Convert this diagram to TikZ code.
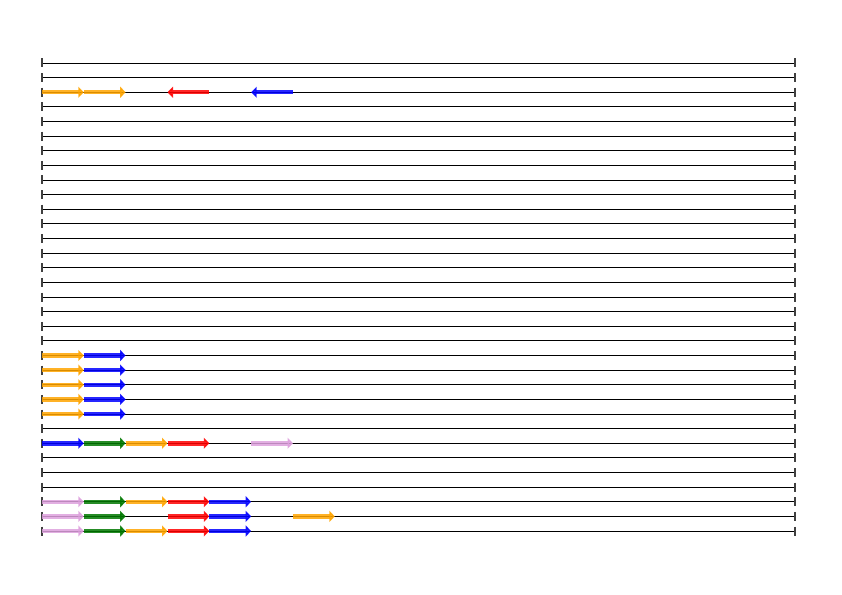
\documentclass[tikz,border=0pt]{standalone}
\usetikzlibrary{arrows.meta}
\definecolor{aorange}{RGB}{255,165,0}
\definecolor{ared}{RGB}{255,0,0}
\definecolor{ablue}{RGB}{0,0,255}
\definecolor{agreen}{RGB}{0,120,0}
\definecolor{aplum}{RGB}{221,160,221}
\tikzset{
  rowline/.style={line width=0.8bp, black},
  tickmark/.style={line width=1.2bp, black!75},
  featarrow/.style={line width=4.5bp, opacity=0.85, -{Triangle[length=5.5bp,width=11bp]}},
}
\newcommand{\rowy}[1]{63+14.625*#1}
\newcommand{\slotx}[1]{42+41.833*#1}
\begin{document}
\begin{tikzpicture}[x=1bp,y=-1bp]
\useasboundingbox (0,0) rectangle (842,595);
\foreach \i in {0,...,32}{
  \draw[rowline] (42,{\rowy{\i}}) -- (795,{\rowy{\i}});
  \draw[tickmark] (42,{\rowy{\i}-4.5}) -- (42,{\rowy{\i}+4.5});
  \draw[tickmark] (795,{\rowy{\i}-4.5}) -- (795,{\rowy{\i}+4.5});
}
% forward arrows: row/slot/color
\foreach \r/\s/\c in {
  2/0/aorange, 2/1/aorange,
  20/0/aorange, 20/1/ablue,
  21/0/aorange, 21/1/ablue,
  22/0/aorange, 22/1/ablue,
  23/0/aorange, 23/1/ablue,
  24/0/aorange, 24/1/ablue,
  26/0/ablue, 26/1/agreen, 26/2/aorange, 26/3/ared, 26/5/aplum,
  30/0/aplum, 30/1/agreen, 30/2/aorange, 30/3/ared, 30/4/ablue,
  31/0/aplum, 31/1/agreen, 31/3/ared, 31/4/ablue, 31/6/aorange,
  32/0/aplum, 32/1/agreen, 32/2/aorange, 32/3/ared, 32/4/ablue}{
  \draw[featarrow, color=\c] ({\slotx{\s}},{\rowy{\r}}) -- ({\slotx{\s}+41.833},{\rowy{\r}});
}
% reverse arrows
\foreach \r/\s/\c in {2/3/ared, 2/5/ablue}{
  \draw[featarrow, color=\c] ({\slotx{\s}+41.833},{\rowy{\r}}) -- ({\slotx{\s}},{\rowy{\r}});
}
\end{tikzpicture}
\end{document}
